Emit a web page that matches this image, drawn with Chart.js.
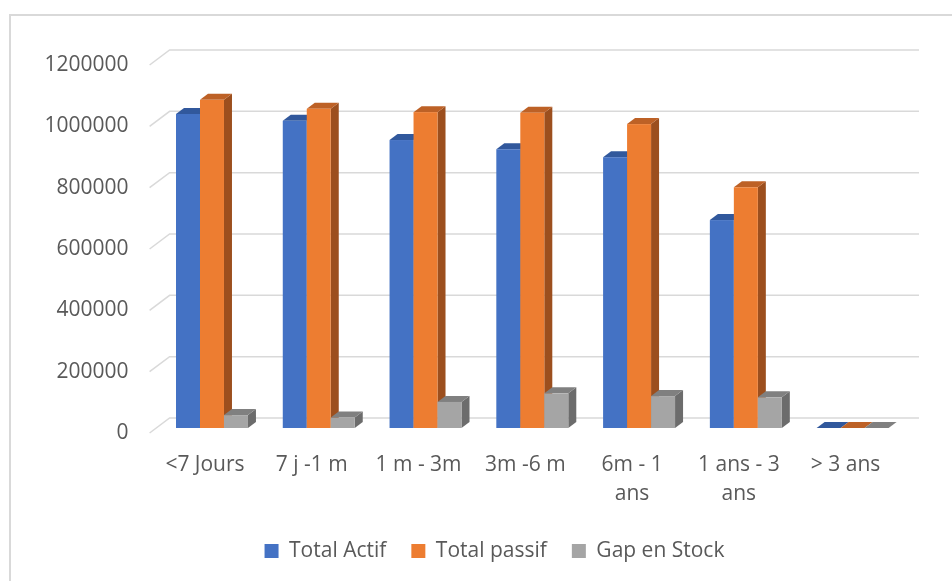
<!DOCTYPE html>
<html>
<head>
<meta charset="utf-8">
<script src="https://cdn.jsdelivr.net/npm/chart.js@4.4.1/dist/chart.umd.min.js"></script>
<style>
  html, body { margin: 0; padding: 0; background: #fff; }
  #wrap { width: 952px; height: 581px; position: relative; }
</style>
</head>
<body>
<div id="wrap"><canvas id="c" width="952" height="581"></canvas></div>
<script>
// Maturity buckets
const categories = ['<7 Jours', '7 j -1 m', '1 m - 3m', '3m -6 m', ['6m - 1', 'ans'], ['1 ans - 3', 'ans'], '> 3 ans'];
// Series values
const totalActif  = [1024000, 1002000, 939000, 909000, 883000, 678000, 0];
const totalPassif = [1070000, 1041000, 1030000, 1028000, 991000, 785000, 0];
const gapStock    = [42000, 34000, 85000, 113000, 104000, 100000, 0];
// Value axis ticks
const yTicks = [0, 200000, 400000, 600000, 800000, 1000000, 1200000];

// Face colours for the extruded columns: front, top, side
const palette = [
  { front: '#4472C4', top: '#31589C', side: '#2D4F8C' },
  { front: '#ED7D31', top: '#BD6126', side: '#9C4F1E' },
  { front: '#A5A5A5', top: '#808080', side: '#6C6C6C' }
];

const FONT = 'Open Sans';
const TEXT = '#595959';
const GRID = '#d9d9d9';
const FLOOR_DX = 20, FLOOR_DY = 15;  // depth of the side wall
const FACE_DX = 7, FACE_DY = 5;      // columns sit a little behind the front edge
const BAR_DX = 8, BAR_DY = 6;        // column depth
const LEGEND_CENTER = 494.5;         // legend row is centred under the plot, not the canvas

const framePlugin = {
  id: 'frame',
  beforeDraw(chart) {
    const ctx = chart.ctx;
    ctx.save();
    ctx.fillStyle = '#fff';
    ctx.fillRect(0, 0, chart.width, chart.height);
    ctx.strokeStyle = GRID;
    ctx.lineWidth = 2;
    ctx.strokeRect(10, 15, chart.width + 20, chart.height + 20);
    ctx.restore();
  },
  afterLayout(chart) {
    const L = chart.legend;
    if (!L) return;
    const shift = LEGEND_CENTER - (L.left + L.right) / 2;
    L.left += shift;
    L.right += shift;
  }
};

const columns3d = {
  id: 'columns3d',
  beforeDatasetsDraw(chart) {
    const { ctx, chartArea: a, scales: { y } } = chart;
    ctx.save();
    // back wall gridlines with the slanted side-wall segment
    ctx.strokeStyle = GRID;
    ctx.lineWidth = 1.5;
    y.ticks.forEach(t => {
      const py = y.getPixelForValue(t.value);
      ctx.beginPath();
      ctx.moveTo(a.left - 2, py);
      ctx.lineTo(a.left - 2 + FLOOR_DX, py - FLOOR_DY);
      ctx.lineTo(a.right + FLOOR_DX, py - FLOOR_DY);
      ctx.stroke();
    });
    // columns, drawn group by group, left to right
    const metas = chart.data.datasets.map((_, i) => chart.getDatasetMeta(i));
    for (let i = 0; i < categories.length; i++) {
      metas.forEach((meta, d) => {
        const el = meta.data[i];
        if (!el) return;
        const { x, y: top, base, width } = el.getProps(['x', 'y', 'base', 'width'], true);
        const c = palette[d];
        const x0 = x - width / 2 + FACE_DX, x1 = x + width / 2 + FACE_DX;
        const yt = top - FACE_DY, yb = base - FACE_DY;
        // side face
        ctx.fillStyle = c.side;
        ctx.beginPath();
        ctx.moveTo(x1, yt);
        ctx.lineTo(x1 + BAR_DX, yt - BAR_DY);
        ctx.lineTo(x1 + BAR_DX, yb - BAR_DY);
        ctx.lineTo(x1, yb);
        ctx.closePath();
        ctx.fill();
        // top face
        ctx.fillStyle = c.top;
        ctx.beginPath();
        ctx.moveTo(x0, yt);
        ctx.lineTo(x1, yt);
        ctx.lineTo(x1 + BAR_DX, yt - BAR_DY);
        ctx.lineTo(x0 + BAR_DX, yt - BAR_DY);
        ctx.closePath();
        ctx.fill();
        // front face
        ctx.fillStyle = c.front;
        ctx.fillRect(x0, yt, x1 - x0, yb - yt);
      });
    }
    ctx.restore();
    return false;
  }
};

new Chart(document.getElementById('c'), {
  type: 'bar',
  data: {
    labels: categories,
    datasets: [
      { label: 'Total Actif', data: totalActif, backgroundColor: palette[0].front, borderWidth: 0 },
      { label: 'Total passif', data: totalPassif, backgroundColor: palette[1].front, borderWidth: 0 },
      { label: 'Gap en Stock', data: gapStock, backgroundColor: palette[2].front, borderWidth: 0 }
    ]
  },
  options: {
    responsive: false,
    animation: false,
    events: [],
    categoryPercentage: 0.674,
    barPercentage: 1,
    layout: { padding: { left: 10, right: 53, top: 65, bottom: 9.5 } },
    plugins: {
      tooltip: { enabled: false },
      legend: {
        position: 'bottom',
        labels: {
          boxWidth: 14,
          boxHeight: 14,
          padding: 25,
          color: TEXT,
          font: { family: FONT, size: 21 }
        }
      }
    },
    scales: {
      x: {
        grid: { display: false, drawTicks: false },
        border: { display: false },
        ticks: {
          padding: 17,
          color: TEXT,
          maxRotation: 0,
          autoSkip: false,
          font: { family: FONT, size: 21, lineHeight: 1.4 }
        },
        afterFit(s) { s.height = 82.5; }
      },
      y: {
        min: 0,
        max: 1200000,
        afterBuildTicks(s) { s.ticks = yTicks.map(v => ({ value: v })); },
        grid: { display: false, drawTicks: false },
        border: { display: false },
        ticks: {
          padding: 23,
          color: TEXT,
          font: { family: FONT, size: 21 },
          callback: v => String(v)
        },
        afterFit(s) { s.width = 141.6; }
      }
    }
  },
  plugins: [framePlugin, columns3d]
});
</script>
</body>
</html>
